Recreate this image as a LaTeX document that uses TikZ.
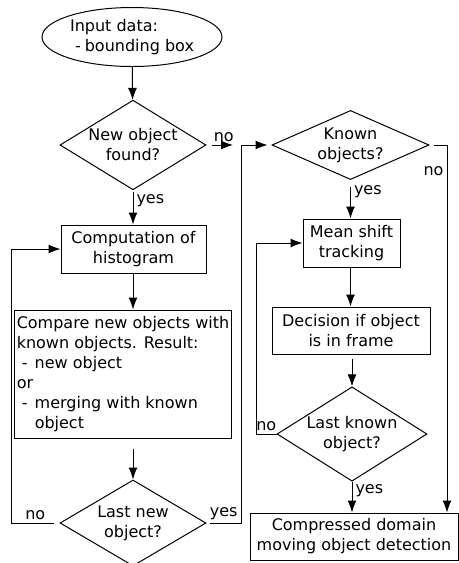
\documentclass[tikz,border=0pt]{standalone}
\usepackage{fontspec}
\setmainfont{DejaVu Sans}
\usetikzlibrary{shapes.geometric,arrows.meta}
\newcommand{\dashitem}{\hspace*{2.5pt}-\hspace*{3.6pt}}

\begin{document}
\begin{tikzpicture}[x=0.5pt, y=-0.5pt, font=\fontsize{8}{10}\selectfont,
        line width=0.5pt, >={Latex[length=6pt,width=4.5pt]},
        box/.style={draw, inner sep=1pt, align=center},
        decide/.style={draw, diamond, inner sep=-4pt, align=center},
        lbl/.style={inner sep=1.5pt}]
    \useasboundingbox (0,0) rectangle (459,563);
    % left column
    \node[draw, ellipse, minimum width=90pt, minimum height=29.5pt, inner sep=0pt, align=left] (input) at (132,37) {Input data:\\\hspace*{2.5pt}-\hspace*{2pt}bounding box};
    \node[decide, minimum width=73pt, minimum height=42.5pt] (newobj) at (133,145) {New object\\found?};
    \node[box, minimum width=72.5pt, minimum height=24pt] (hist) at (133.5,249) {Computation of\\histogram};
    \node[box, align=left, minimum width=108pt, minimum height=64pt] (compare) at (123,374) {Compare new objects with\\known objects. Result:\\\dashitem new object\\or\\\dashitem merging with known\\\hspace*{9pt}object};
    \node[decide, minimum width=73pt, minimum height=43pt] (lastnew) at (133,523) {Last new\\object?};
    % right column
    \node[decide, minimum width=78.5pt, minimum height=33.5pt] (known) at (350.5,145) {Known\\objects?};
    \node[box, minimum width=48.5pt, minimum height=24pt] (meanshift) at (351.5,243) {Mean shift\\tracking};
    \node[box, minimum width=79pt, minimum height=23.5pt] (decision) at (351,330.5) {Decision if object\\is in frame};
    \node[decide, minimum width=75pt, minimum height=42.5pt] (lastknown) at (352,434) {Last known\\object?};
    \node[box, minimum width=104pt, minimum height=23.5pt] (result) at (354,536.5) {Compressed domain\\moving object detection};
    % corners of the connectors
    \coordinate (join) at (241,145);
    \coordinate (leftloop) at (11,523);
    \coordinate (rightloop) at (256,434);
    \coordinate (skip) at (447,145);

    \draw[->] (input) -- (newobj);
    \draw[->, shorten <=2.5pt, shorten >=4pt] (newobj.east) -- node[lbl, above] (no1) {no} (join);
    \draw[->, shorten <=1pt] (newobj.south) -- node[lbl, right, pos=0.3] (yes1) {yes} (newobj.south |- hist.north);
    \draw[->] (newobj.south |- hist.south) -- (newobj.south |- compare.north);
    \draw[->, shorten <=5pt] (lastnew.north |- compare.south) -- (lastnew.north);
    \draw[->, shorten <=3pt] (lastnew.west) -- node[lbl, above] (no3) {no} (leftloop) |- (hist.west);
    \draw[->, shorten <=1.5pt, shorten >=2pt] (lastnew.east) -- node[lbl, above] (yes3) {yes} (lastnew.east -| join) -- (join) -- (known.west);
    \draw[->, shorten <=3.5pt] (known.south) -- node[lbl, right, pos=0.3] (yes2) {yes} (known.south |- meanshift.north);
    \draw[->, shorten <=2pt] (known.east) -- (skip) -- node[lbl, left, pos=0.07] (no2) {no} (skip |- result.north);
    \draw[->] (known.south |- meanshift.south) -- (known.south |- decision.north);
    \draw[->, shorten <=2pt] (lastknown.north |- decision.south) -- (lastknown.north);
    \draw[->] (lastknown.west) -- node[lbl, above] (no4) {no} (rightloop) |- (meanshift.west);
    \draw[->] (lastknown.south) -- node[lbl, right, pos=0.3] (yes4) {yes} (lastknown.south |- result.north);
\end{tikzpicture}
\end{document}
